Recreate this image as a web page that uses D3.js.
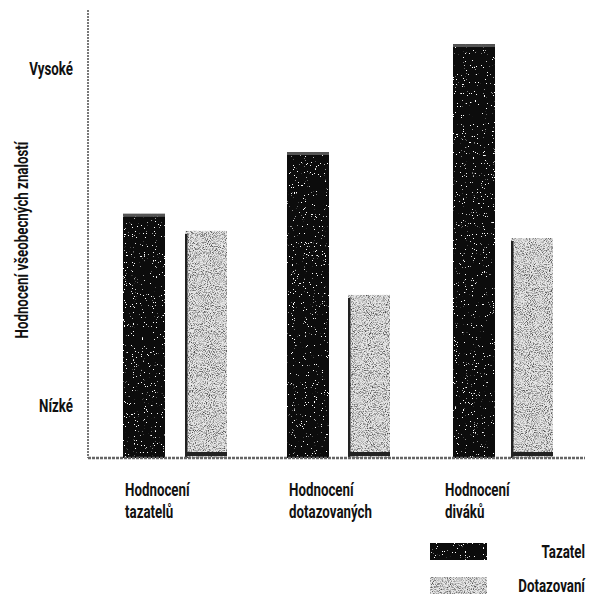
<!DOCTYPE html>
<html><head><meta charset="utf-8">
<script src="https://cdn.jsdelivr.net/npm/d3@7"></script>
<style>
body{margin:0;background:#fff;}
text{font-family:Roboto,"Liberation Sans",sans-serif;font-weight:bold;fill:#111;}
</style></head>
<body><svg id="c" width="589" height="597"></svg>
<script>
const categories = ["Hodnocení tazatelů", "Hodnocení dotazovaných", "Hodnocení diváků"];
const categoryLines = [["Hodnocení","tazatelů"],["Hodnocení","dotazovaných"],["Hodnocení","diváků"]];
const seriesNames = ["Tazatel", "Dotazovaní"];
const tazatel = [54.5, 68.3, 92.4];
const dotazovani = [50.7, 36.4, 49.1];
const tickValues = [11.8, 87];
const tickLabels = ["Nízké", "Vysoké"];
const yTitle = "Hodnocení všeobecných znalostí";

const FS = 18, SX = 0.74;
const svg = d3.select("#c");
const defs = svg.append("defs");

function speckle(id, seed, freq, rgb, alphaRow){
  const f = defs.append("filter").attr("id",id).attr("x",0).attr("y",0).attr("width",1).attr("height",1)
    .attr("color-interpolation-filters","sRGB");
  f.append("feTurbulence").attr("type","fractalNoise").attr("baseFrequency",freq).attr("numOctaves",2).attr("seed",seed).attr("result","n");
  f.append("feColorMatrix").attr("in","n").attr("type","matrix")
    .attr("values",`0 0 0 0 ${rgb}  0 0 0 0 ${rgb}  0 0 0 0 ${rgb}  ${alphaRow}`).attr("result","dots");
  f.append("feComposite").attr("in","dots").attr("in2","SourceGraphic").attr("operator","in").attr("result","d2");
  f.append("feMerge").call(m=>{m.append("feMergeNode").attr("in","SourceGraphic");m.append("feMergeNode").attr("in","d2");});
}
speckle("speckDark", 3, 0.9, 1, "25 0 0 0 -17.5");
speckle("speckLight", 7, 0.95, 0.3, "3 0 0 0 -1.35");

const x0 = 88, x1 = 585, yTop = 10, yBase = 458;
const y = d3.scaleLinear().domain([0,100]).range([yBase, yTop]);
const groupStarts = [123, 287, 453];
const x = d3.scaleOrdinal().domain(categories).range(groupStarts);
const barW = 42;
const offsetsByCat = [[0,62],[0,61],[0,58]];

const data = [];
categories.forEach((c,i)=>{
  data.push({cat:c,i,s:"Tazatel",v:tazatel[i],xo:offsetsByCat[i][0]});
  data.push({cat:c,i,s:"Dotazovaní",v:dotazovani[i],xo:offsetsByCat[i][1]});
});

// bars
const g = svg.append("g");
data.forEach(d=>{
  const bx = x(d.cat)+d.xo, by = y(d.v), bh = yBase - y(d.v);
  if(d.s==="Tazatel"){
    g.append("rect").attr("x",bx).attr("y",by).attr("width",barW).attr("height",bh)
      .attr("fill","#0c0c0c").attr("filter","url(#speckDark)");
    g.append("rect").attr("x",bx).attr("y",by).attr("width",barW).attr("height",3).attr("fill","#555");
  } else {
    g.append("rect").attr("x",bx).attr("y",by).attr("width",barW).attr("height",bh)
      .attr("fill","#e6e6e6").attr("filter","url(#speckLight)");
    g.append("rect").attr("x",bx).attr("y",by+3).attr("width",2.5).attr("height",bh-3).attr("fill","#222");
    g.append("rect").attr("x",bx).attr("y",yBase-6).attr("width",barW).attr("height",4).attr("fill","#222");
  }
});

// axes
const yAxis = d3.axisLeft(y).tickValues(tickValues).tickFormat((d,i)=>tickLabels[i]).tickSize(0).tickPadding(0);
const ya = svg.append("g").attr("transform",`translate(${x0},0)`).call(yAxis);
ya.select(".domain").remove();
ya.selectAll(".tick text").each(function(){
  const t = d3.select(this);
  t.attr("x",0).attr("dy",null).attr("dominant-baseline","central")
   .attr("font-size",FS).attr("font-family","Roboto, sans-serif").attr("font-weight","bold").attr("fill","#111")
   .attr("transform",`translate(-15,0) scale(${SX},1)`);
});

svg.append("line").attr("x1",x0).attr("x2",x0).attr("y1",yTop).attr("y2",yBase)
  .attr("stroke","#777").attr("stroke-width",2).attr("stroke-dasharray","2 1");
svg.append("line").attr("x1",x0).attr("x2",x1).attr("y1",yBase).attr("y2",yBase)
  .attr("stroke","#666").attr("stroke-width",2.5).attr("stroke-dasharray","3 1");

// y title
svg.append("text").attr("transform",`translate(28,240) rotate(-90) scale(${SX},1)`).attr("text-anchor","middle")
  .attr("font-size",FS).text(yTitle);

// category labels
const labOff = [2,2,-8];
categories.forEach((c,i)=>{
  const gx = x(c)+labOff[i];
  const t = svg.append("text").attr("transform",`translate(${gx},496) scale(${SX},1)`).attr("font-size",FS);
  categoryLines[i].forEach((ln,j)=>{
    t.append("tspan").attr("x",0).attr("dy",j===0?0:22).text(ln);
  });
});

// legend
const legY = [543, 577];
seriesNames.forEach((s,i)=>{
  svg.append("rect").attr("x",430).attr("y",legY[i]).attr("width",57).attr("height",17)
    .attr("fill", i===0?"#0c0c0c":"#e6e6e6").attr("filter", i===0?"url(#speckDark)":"url(#speckLight)");
  svg.append("text").attr("transform",`translate(585,${legY[i]+15}) scale(${SX},1)`).attr("text-anchor","end").attr("font-size",FS).text(s);
});
</script></body></html>
